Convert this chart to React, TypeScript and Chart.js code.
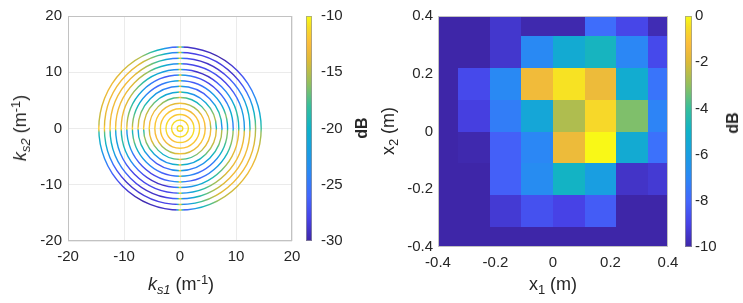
import React, { useEffect, useRef } from "react";
import { Chart, registerables } from "chart.js";

Chart.register(...registerables);

// ---------- Left panel: k-space rings ----------
const RING_RADII = [0.5, 1.5, 2.5, 3.5, 4.5, 5.5, 6.5, 7.5, 8.5, 9.5, 10.5, 11.5, 12.5, 13.5, 14.5];
// angles (deg, counter-clockwise from +k_s1) at which ring levels were read
const RING_ANGLES = [0, 3, 15, 30, 45, 60, 75, 87, 90, 93, 105, 120, 135, 150, 165, 177, 180, 183, 195, 210, 225, 240, 255, 267, 270, 273, 285, 300, 315, 330, 345, 357];
// dB level of each ring (rows, inner -> outer) at each angle above
const RING_DB = [
  [-11, -11, -11, -11, -11, -11, -11, -11, -11, -11, -11, -11, -11, -11, -11, -11, -11, -11, -11, -11, -11, -11, -11, -11, -11, -11, -11, -11, -11, -11, -11, -11],
  [-11, -11, -11, -11.5, -12, -11.5, -11, -11, -11, -11, -11, -11, -11, -11, -11, -11, -11, -11, -11, -11.5, -12, -11.5, -11, -11, -11, -11, -11, -11, -11, -11, -11, -11],
  [-11, -11, -11, -12, -12.5, -12.5, -12, -11.5, -11, -11.5, -12, -12, -11.5, -11, -11, -11, -11, -11, -11, -12, -12.5, -12.5, -12, -11.5, -11, -11.5, -12, -12, -11.5, -11, -11, -11],
  [-12, -12, -12, -12, -13, -13, -12, -12, -11, -12, -12, -12, -12, -12, -12, -11, -11, -12, -12, -12.5, -13, -13.5, -12.5, -12, -11, -12, -12.5, -12, -12, -12, -11.5, -11.5],
  [-13, -13, -12, -13, -15, -16, -14, -13, -11, -13, -14, -13, -13, -12, -12, -12, -11, -13, -12.5, -13, -15.5, -16, -14.5, -13, -11, -13, -14.5, -13.5, -13, -12, -12, -12.5],
  [-15, -16, -13, -14, -18, -20, -18, -16, -11, -16, -18, -16, -15, -13, -13, -12, -11, -15, -13, -14.5, -18, -21, -18, -16, -11, -16, -18.5, -16.5, -15, -13.5, -13, -13],
  [-19, -20, -15, -17, -21, -24, -22, -19, -11, -20, -22, -20, -17, -15, -14, -13, -11, -19, -15.5, -17, -21.5, -24, -22, -19, -11, -19, -22, -20.5, -17, -15, -14, -14],
  [-23, -24, -18, -20, -25, -27, -25, -22, -11, -23, -25, -23, -21, -18, -15, -14, -11, -23, -18, -20.5, -25, -27.5, -25, -22, -11, -22, -25, -23.5, -21, -18, -15.5, -15],
  [-20, -21, -16, -22, -22, -25, -27, -24, -11, -21, -24, -26, -24, -20, -17, -15, -11, -20, -16.5, -21, -23, -25, -27, -24, -11, -22, -24, -26, -24.5, -20, -17, -16],
  [-24, -25, -20, -25, -27, -28, -26, -22, -11, -25, -27, -25, -22, -19, -16, -14, -11, -24, -20, -25.5, -27, -28, -26, -23, -11, -24, -27, -25, -22, -19.5, -16, -16],
  [-19, -20, -18, -22, -25, -29, -29, -25, -11, -24, -22, -20, -17, -14, -13, -13, -11, -19, -18.5, -22, -26, -29, -29, -25, -11, -24, -22, -19.5, -17, -14, -13, -14],
  [-22, -23, -22, -26, -28, -27, -28, -27, -11, -24, -20, -16, -14, -13, -13, -13, -11, -22, -22, -26, -28, -27.5, -28, -27, -11, -24, -20, -16, -14, -13, -13, -14],
  [-19, -20, -20, -24, -27, -29, -29, -26, -11, -26, -19, -15, -13, -13, -13, -13, -11, -19, -20.5, -24, -27, -29, -29, -26, -11, -25, -19, -15, -13, -13, -13, -14],
  [-16, -17, -21, -26, -29, -28, -28, -28, -11, -25, -18, -14, -13, -13, -13, -14, -11, -17, -21, -26, -29, -28.5, -28, -28, -11, -25, -18, -14, -13, -13, -13.5, -15],
  [-18, -19, -22, -25, -28, -30, -29, -29, -11, -27, -20, -15, -14, -13, -14, -15, -11, -19, -22, -25.5, -28, -30, -29, -29, -11, -27, -20, -15, -14, -13, -14, -16],
];
const K_TICKS = [-20, -10, 0, 10, 20];
const K_CB_TICKS = [-30, -25, -20, -15, -10];

// ---------- Right panel: source image ----------
const X1_CENTERS = [-0.385, -0.275, -0.165, -0.055, 0.055, 0.165, 0.275, 0.385];
const X2_CENTERS = [0.385, 0.275, 0.165, 0.055, -0.055, -0.165, -0.275, -0.385];
const CELL_SIZE = 0.11;
const IMAGE_DB = [
  [-10, -10, -9.4, -9.9, -9.9, -7.8, -8.9, -9.8],
  [-10, -10, -9.4, -6.9, -5.4, -4.8, -7.0, -8.8],
  [-10, -8.8, -6.9, -1.5, -0.4, -1.6, -5.3, -7.6],
  [-10, -9.1, -7.3, -5.6, -2.6, -0.6, -3.2, -7.1],
  [-10, -9.9, -8.2, -7.0, -1.6, -0.05, -5.4, -7.7],
  [-10, -10, -8.2, -6.8, -4.9, -6.0, -9.5, -9.3],
  [-10, -10, -9.3, -8.6, -9.0, -8.3, -10, -10],
  [-10, -10, -10, -10, -10, -10, -10, -10],
];
const X_TICKS = [-0.4, -0.2, 0, 0.2, 0.4];
const X_CB_TICKS = [-10, -8, -6, -4, -2, 0];

// ---------- styling ----------
const FONT_FAMILY = "'Liberation Sans', Arial, Helvetica, sans-serif";
const TEXT = "#262626";
const PARULA: number[][] = [
  [0.0, 62, 38, 168],
  [0.1, 71, 66, 230],
  [0.2, 67, 103, 253],
  [0.3, 43, 135, 245],
  [0.4, 25, 158, 225],
  [0.5, 15, 178, 200],
  [0.6, 55, 190, 155],
  [0.7, 145, 191, 95],
  [0.8, 220, 186, 55],
  [0.875, 252, 187, 60],
  [0.95, 246, 220, 38],
  [1.0, 249, 251, 21],
];

function parula(t: number): string {
  const u = Math.max(0, Math.min(1, t));
  for (let i = 1; i < PARULA.length; i++) {
    const a = PARULA[i - 1];
    const b = PARULA[i];
    if (u <= b[0]) {
      const f = (u - a[0]) / (b[0] - a[0]);
      const r = Math.round(a[1] + f * (b[1] - a[1]));
      const g = Math.round(a[2] + f * (b[2] - a[2]));
      const bl = Math.round(a[3] + f * (b[3] - a[3]));
      return `rgb(${r},${g},${bl})`;
    }
  }
  const l = PARULA[PARULA.length - 1];
  return `rgb(${l[1]},${l[2]},${l[3]})`;
}

const boxPlugin = {
  id: "boxFrame",
  afterDraw(chart: any) {
    const { ctx, chartArea: a } = chart;
    ctx.save();
    ctx.strokeStyle = "#c2c2c2";
    ctx.lineWidth = 1;
    ctx.strokeRect(Math.round(a.left) + 0.5, Math.round(a.top) + 0.5, Math.round(a.right - a.left) - 1, Math.round(a.bottom - a.top) - 1);
    ctx.restore();
  },
};

function makeColorbar(id: string, offset: number, width: number, min: number, max: number) {
  return {
    id: "colorbar_" + id,
    afterDraw(chart: any) {
      const { ctx, chartArea: a } = chart;
      const s = chart.scales[id];
      const x0 = Math.round(a.right + offset);
      const yTop = s.getPixelForValue(max);
      const yBot = s.getPixelForValue(min);
      const g = ctx.createLinearGradient(0, yBot, 0, yTop);
      for (let i = 0; i <= 60; i++) g.addColorStop(i / 60, parula(i / 60));
      ctx.save();
      ctx.fillStyle = g;
      ctx.fillRect(x0, yTop, width, yBot - yTop);
      ctx.strokeStyle = "rgba(150,150,150,0.7)";
      ctx.lineWidth = 1;
      ctx.strokeRect(x0 + 0.5, Math.round(yTop) + 0.5, width - 1, Math.round(yBot - yTop) - 1);
      ctx.restore();
    },
  };
}

const ringsPlugin = {
  id: "rings",
  beforeDatasetsDraw(chart: any) {
    const { ctx, chartArea: a, scales } = chart;
    const x = scales.x;
    const y = scales.y;
    const toT = (v: number) => (v + 30) / 20;
    ctx.save();
    ctx.beginPath();
    ctx.rect(a.left, a.top, a.right - a.left, a.bottom - a.top);
    ctx.clip();
    const cx = x.getPixelForValue(0);
    const cy = y.getPixelForValue(0);
    const n = RING_ANGLES.length;
    RING_RADII.forEach((r, i) => {
      const rx = x.getPixelForValue(r) - cx;
      const ry = cy - y.getPixelForValue(r);
      const vals = RING_DB[i];
      const stops: [number, string][] = [];
      for (let j = 0; j < n; j++) {
        const a0 = RING_ANGLES[j];
        const a1 = j + 1 < n ? RING_ANGLES[j + 1] : RING_ANGLES[0] + 360;
        const v0 = vals[j];
        const v1 = vals[(j + 1) % n];
        for (let k = 0; k < 4; k++) {
          const f = k / 4;
          const th = a0 + f * (a1 - a0);
          const col = parula(toT(v0 + f * (v1 - v0)));
          const off = ((360 - (th % 360)) % 360) / 360;
          stops.push([off, col]);
          if (off === 0) stops.push([1, col]);
        }
      }
      stops.sort((p, q) => p[0] - q[0]);
      const g = ctx.createConicGradient(0, cx, cy);
      stops.forEach(([o, c]) => g.addColorStop(o, c));
      ctx.strokeStyle = g;
      ctx.lineWidth = 1.4;
      ctx.beginPath();
      ctx.ellipse(cx, cy, Math.abs(rx), Math.abs(ry), 0, 0, Math.PI * 2);
      ctx.stroke();
    });
    ctx.restore();
  },
};

const heatPlugin = {
  id: "heat",
  beforeDatasetsDraw(chart: any) {
    const { ctx, chartArea: a, scales } = chart;
    const x = scales.x;
    const y = scales.y;
    ctx.save();
    ctx.beginPath();
    ctx.rect(a.left, a.top, a.right - a.left, a.bottom - a.top);
    ctx.clip();
    IMAGE_DB.forEach((row, ri) => {
      row.forEach((v, ci) => {
        const xc = X1_CENTERS[ci];
        const yc = X2_CENTERS[ri];
        const px0 = x.getPixelForValue(xc - CELL_SIZE / 2);
        const px1 = x.getPixelForValue(xc + CELL_SIZE / 2);
        const py0 = y.getPixelForValue(yc + CELL_SIZE / 2);
        const py1 = y.getPixelForValue(yc - CELL_SIZE / 2);
        ctx.fillStyle = parula((v + 10) / 10);
        ctx.fillRect(Math.round(px0), Math.round(py0), Math.round(px1) - Math.round(px0), Math.round(py1) - Math.round(py0));
      });
    });
    ctx.restore();
  },
};

const tickFont = { family: FONT_FAMILY, size: 15 };

function linAxis(position: string, ticksArr: number[], pad: number, tickLen: number, size: number, gridOn: boolean, fmt: (v: number) => string) {
  const horizontal = position === "bottom" || position === "top";
  return {
    type: "linear",
    position,
    min: ticksArr[0],
    max: ticksArr[ticksArr.length - 1],
    afterBuildTicks: (s: any) => {
      s.ticks = ticksArr.map((v) => ({ value: v }));
    },
    ticks: {
      font: tickFont,
      color: TEXT,
      padding: pad,
      maxRotation: 0,
      autoSkip: false,
      callback: (v: any) => fmt(Number(v)),
    },
    grid: { display: gridOn, color: "#ebebeb", lineWidth: 1, drawTicks: tickLen > 0, tickLength: tickLen, tickColor: "rgba(0,0,0,0)" },
    border: { display: false },
    afterFit: (s: any) => {
      if (horizontal) s.height = size;
      else s.width = size;
    },
  };
}

const fmtInt = (v: number) => String(Math.round(v));
const fmt1 = (v: number) => String(Math.round(v * 10) / 10);

function leftConfig(): any {
  return {
    type: "scatter",
    data: { datasets: [{ data: [], showLine: false, pointRadius: 0 }] },
    options: {
      animation: false,
      responsive: false,
      maintainAspectRatio: false,
      events: [],
      layout: { padding: { top: 16, left: 0, right: 0, bottom: 0 }, autoPadding: false },
      plugins: { legend: { display: false }, tooltip: { enabled: false }, title: { display: false } },
      scales: {
        x: linAxis("bottom", K_TICKS, 7, 0, 62, true, fmtInt),
        y: linAxis("left", K_TICKS, 6, 0, 68, true, fmtInt),
        cb: linAxis("right", K_CB_TICKS, 2, 27, 80, false, fmtInt),
      },
    },
    plugins: [ringsPlugin, boxPlugin, makeColorbar("cb", 14, 6, -30, -10)],
  };
}

function rightConfig(): any {
  return {
    type: "scatter",
    data: { datasets: [{ data: [], showLine: false, pointRadius: 0 }] },
    options: {
      animation: false,
      responsive: false,
      maintainAspectRatio: false,
      events: [],
      layout: { padding: { top: 16, left: 0, right: 0, bottom: 0 }, autoPadding: false },
      plugins: { legend: { display: false }, tooltip: { enabled: false }, title: { display: false } },
      scales: {
        x: linAxis("bottom", X_TICKS, 7, 0, 56, false, fmt1),
        y: linAxis("left", X_TICKS, 5, 0, 66, false, fmt1),
        cb: linAxis("right", X_CB_TICKS, 2, 25, 75, false, fmtInt),
      },
    },
    plugins: [heatPlugin, boxPlugin, makeColorbar("cb", 17, 7, -10, 0)],
  };
}

function Label(props: { x: number; y: number; rotate?: boolean; bold?: boolean; size: number; children: any }) {
  const { x, y, rotate, bold, size, children } = props;
  return (
    <div
      style={{
        position: "absolute",
        left: x,
        top: y,
        transform: `translate(-50%, -50%)${rotate ? " rotate(-90deg)" : ""}`,
        fontSize: size,
        fontWeight: bold ? 700 : 400,
        whiteSpace: "nowrap",
        lineHeight: 1,
        fontFamily: FONT_FAMILY,
        color: TEXT,
      }}
    >
      {children}
    </div>
  );
}

const subStyle = { fontSize: "0.72em", verticalAlign: "-0.3em", lineHeight: 0 } as const;
const supStyle = { fontSize: "0.72em", verticalAlign: "0.5em", lineHeight: 0 } as const;

export default function App() {
  const leftRef = useRef<HTMLCanvasElement>(null);
  const rightRef = useRef<HTMLCanvasElement>(null);

  useEffect(() => {
    const c1 = new Chart(leftRef.current as HTMLCanvasElement, leftConfig());
    const c2 = new Chart(rightRef.current as HTMLCanvasElement, rightConfig());
    return () => {
      c1.destroy();
      c2.destroy();
    };
  }, []);

  return (
    <div style={{ position: "absolute", left: 0, top: 0, width: 743, height: 303, background: "#ffffff", overflow: "hidden" }}>
      <canvas ref={leftRef} width={372} height={303} style={{ position: "absolute", left: 0, top: 0, width: 372, height: 303 }} />
      <canvas ref={rightRef} width={371} height={303} style={{ position: "absolute", left: 372, top: 0, width: 371, height: 303 }} />

      <Label x={181} y={284} size={18}>
        <i>k</i>
        <sub style={subStyle}>
          <i>s1</i>
        </sub>{" "}
        (m<sup style={supStyle}>-1</sup>)
      </Label>
      <Label x={20} y={128} size={18} rotate>
        <i>k</i>
        <sub style={subStyle}>
          <i>s2</i>
        </sub>{" "}
        (m<sup style={supStyle}>-1</sup>)
      </Label>
      <Label x={362} y={128} size={16} bold rotate>
        dB
      </Label>

      <Label x={553} y={284} size={18}>
        x<sub style={subStyle}>1</sub> (m)
      </Label>
      <Label x={388} y={131} size={18} rotate>
        x<sub style={subStyle}>2</sub> (m)
      </Label>
      <Label x={733} y={123} size={16} bold rotate>
        dB
      </Label>
    </div>
  );
}
